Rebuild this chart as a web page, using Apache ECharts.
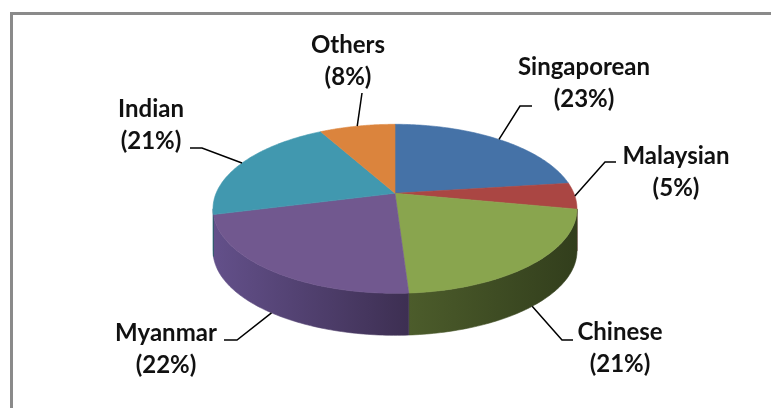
<!DOCTYPE html>
<html><head><meta charset="utf-8">
<script src="https://cdn.jsdelivr.net/npm/echarts@6/dist/echarts.min.js"></script>
<style>html,body{margin:0;padding:0;background:#fff}#main{width:771px;height:408px}</style>
</head><body><div id="main"></div>
<script>
// ---- data ----
const categories = ['Singaporean', 'Malaysian', 'Chinese', 'Myanmar', 'Indian', 'Others'];
const values = [23, 5, 21, 22, 21, 8];

// ---- styles ----
const topColors = ['#4572A7', '#AA4643', '#89A54E', '#71588F', '#4198AF', '#DB843D'];
const sideColors = [
  ['#3a5f8c', '#28425f'], ['#8a3835', '#5e2624'], ['#4c5c2b', '#323e1c'],
  ['#63508a', '#3d2f52'], ['#307588', '#225563'], ['#b0682f', '#7d4a20']
];

// ---- layout (perspective disk geometry + label placement) ----
const G = { cx: 395, cy: 193.3, a: 178.9, b: 81.65, k: 0.1834, depth: 42 };
// label block centre x, y ; leader elbow x, y ; leader end x
const labelLayout = [
  [584, 83, 520, 106, 532],
  [676, 172.5, 605, 162, 616],
  [620, 348.5, 562, 340, 573],
  [166, 349, 237, 340, 224],
  [151, 125, 202, 148, 190],
  [348, 61.5, 362, 93, 362]
];

function proj(t) {
  const u = Math.sin(t), v = -Math.cos(t);
  const d = 1 - G.k * v;
  return [G.cx + G.a * u / d, G.cy + G.b * v / d];
}

const total = values.reduce((s, x) => s + x, 0);

function renderItem(params, api) {
  const i = params.dataIndex;
  const v = api.value(0);
  let start = 0;
  for (let j = 0; j < i; j++) start += values[j];
  const t0 = start / total * 2 * Math.PI;
  const t1 = (start + v) / total * 2 * Math.PI;
  const n = 80;
  const children = [];
  // side wall (only the front-facing part)
  const ta = Math.acos(-G.k), tb = 2 * Math.PI - ta;
  const s = Math.max(t0, ta), e = Math.min(t1, tb);
  if (e > s) {
    const pts = [];
    for (let q = 0; q <= n; q++) pts.push(proj(s + (e - s) * q / n));
    const bottom = pts.slice().reverse().map(p => [p[0], p[1] + G.depth]);
    const xs = pts.map(p => p[0]);
    const grad = {
      type: 'linear', x: Math.min(...xs), y: 0, x2: Math.max(...xs), y2: 0, global: true,
      colorStops: [{ offset: 0, color: sideColors[i][0] }, { offset: 1, color: sideColors[i][1] }]
    };
    children.push({
      type: 'polygon', z2: 1,
      shape: { points: pts.concat(bottom) },
      style: { fill: grad, stroke: grad, lineWidth: 0.6 }
    });
  }
  // top face
  const tp = [[G.cx, G.cy]];
  for (let q = 0; q <= n; q++) tp.push(proj(t0 + (t1 - t0) * q / n));
  children.push({
    type: 'polygon', z2: 5,
    shape: { points: tp },
    style: { fill: topColors[i], stroke: topColors[i], lineWidth: 0.6 }
  });
  // leader line
  const tm = (t0 + t1) / 2;
  const anc = proj(tm);
  if (tm > ta && tm < tb) anc[1] += G.depth;
  const L = labelLayout[i];
  children.push({
    type: 'polyline', z2: 8,
    shape: { points: [anc, [L[2], L[3]], [L[4], L[3]]] },
    style: { stroke: '#000', lineWidth: 1.5, fill: null }
  });
  // label
  const pct = Math.round(v / total * 100);
  children.push({
    type: 'text', z2: 9,
    x: L[0], y: L[1],
    style: {
      text: categories[i] + '\n(' + pct + '%)',
      fill: '#111', font: 'bold 24px Lato', lineHeight: 32,
      align: 'center', verticalAlign: 'middle'
    }
  });
  return { type: 'group', children };
}

const chart = echarts.init(document.getElementById('main'), null, { renderer: 'canvas' });
chart.setOption({
  backgroundColor: '#fff',
  animation: false,
  graphic: [
    { type: 'line', shape: { x1: 10, y1: 13.5, x2: 771, y2: 13.5 }, style: { stroke: '#8a8a8a', lineWidth: 3 } },
    { type: 'line', shape: { x1: 11.5, y1: 12, x2: 11.5, y2: 408 }, style: { stroke: '#8a8a8a', lineWidth: 3 } }
  ],
  series: [{
    type: 'custom',
    coordinateSystem: 'none',
    renderItem: renderItem,
    data: categories.map((c, i) => ({ name: c, value: [values[i]] }))
  }]
});
</script>
</body></html>
